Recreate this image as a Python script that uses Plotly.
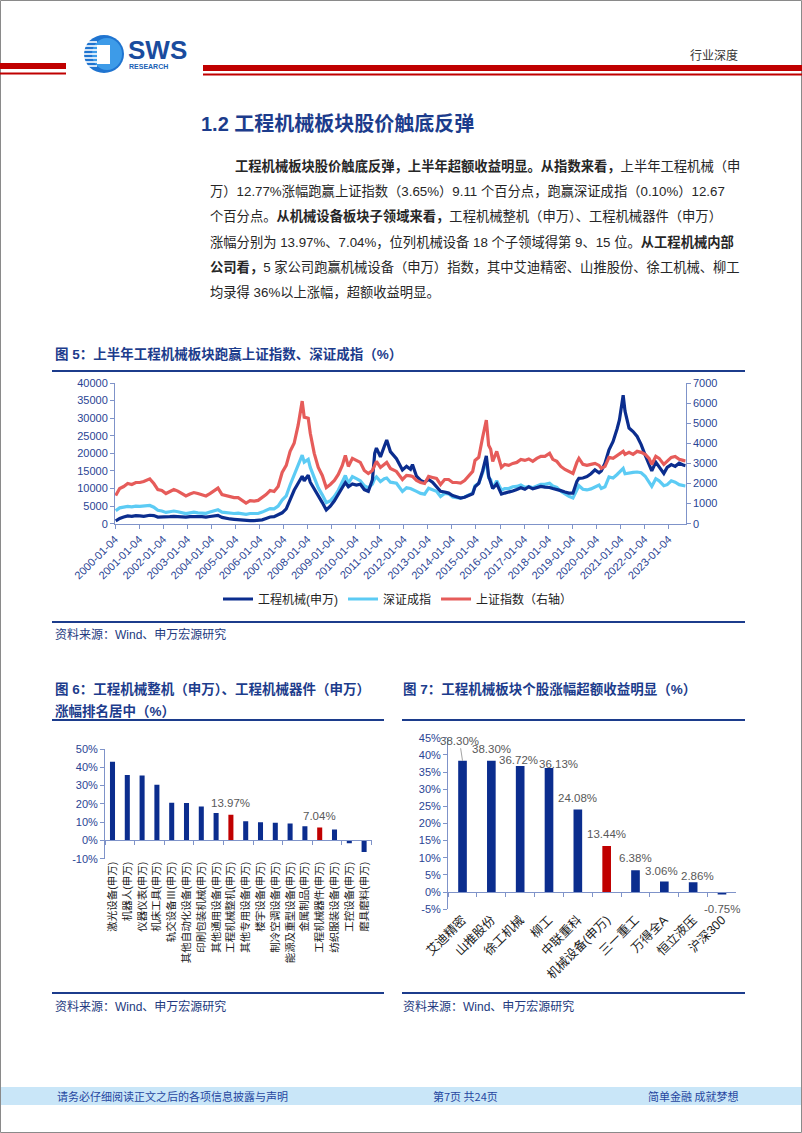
import plotly.graph_objects as go

W, H = 802, 1133

def fx(x):
    return x / W

def fy(y):
    return 1 - y / H

NAVY = '#0b2d8e'
LIGHT = '#5ccbf4'
RED = '#e65c5a'
BARRED = '#c00000'
TITLE = '#1c3c8c'
TICK = '#2a4494'
AX = '#7f93c9'
FONT = 'Liberation Sans, Noto Sans CJK SC'
CJK = 'Noto Sans CJK SC'

# ---------------- 图5 data ----------------
dates = ['2000-01-15', '2000-03-15', '2000-05-15', '2000-07-15', '2000-09-15', '2000-11-15',
         '2001-01-15', '2001-03-15', '2001-06-15', '2001-08-15', '2001-10-15', '2001-12-15',
         '2002-02-15', '2002-04-15', '2002-06-15', '2002-08-15', '2002-10-15', '2002-12-15',
         '2003-02-15', '2003-04-15', '2003-06-15', '2003-08-15', '2003-10-15', '2003-12-15',
         '2004-02-15', '2004-04-15', '2004-06-15', '2004-08-15', '2004-10-15', '2004-12-15',
         '2005-02-15', '2005-04-15', '2005-06-15', '2005-08-15', '2005-10-15', '2005-12-15',
         '2006-02-15', '2006-04-15', '2006-06-15', '2006-08-15', '2006-10-15', '2006-12-15',
         '2007-02-15', '2007-04-15', '2007-06-15', '2007-08-15', '2007-10-15', '2007-11-15',
         '2008-01-15', '2008-02-15', '2008-04-15', '2008-06-15', '2008-08-15', '2008-10-15', '2008-12-15',
         '2009-02-15', '2009-04-15', '2009-06-15', '2009-07-31', '2009-09-15', '2009-11-15',
         '2010-01-15', '2010-03-15', '2010-05-15', '2010-07-15', '2010-09-15', '2010-10-20', '2010-11-15',
         '2011-01-15', '2011-03-15', '2011-04-20', '2011-06-15', '2011-09-15', '2011-12-15',
         '2012-02-15', '2012-04-15', '2012-05-15', '2012-07-15', '2012-09-15', '2012-11-15',
         '2013-01-15', '2013-03-15', '2013-05-15', '2013-07-15', '2013-09-15', '2013-11-15',
         '2014-01-15', '2014-03-15', '2014-05-15', '2014-07-15', '2014-09-15', '2014-11-15', '2014-12-20',
         '2015-02-15', '2015-04-15', '2015-06-10', '2015-07-15', '2015-08-15', '2015-09-15', '2015-11-15',
         '2016-01-25', '2016-03-15', '2016-05-15', '2016-07-15', '2016-09-15', '2016-11-15',
         '2017-01-15', '2017-03-15', '2017-05-15', '2017-07-15', '2017-09-15', '2017-11-15',
         '2018-01-25', '2018-03-15', '2018-05-15', '2018-07-15', '2018-09-15', '2018-11-15',
         '2019-01-15', '2019-03-15', '2019-04-15', '2019-06-15', '2019-08-15', '2019-10-15', '2019-12-15',
         '2020-02-15', '2020-03-20', '2020-05-15', '2020-07-15', '2020-09-15', '2020-11-15', '2020-12-20',
         '2021-02-15', '2021-03-15', '2021-05-15', '2021-07-15', '2021-09-15', '2021-11-15',
         '2022-01-15', '2022-03-15', '2022-04-25', '2022-06-25', '2022-08-15', '2022-10-25', '2022-12-15',
         '2023-02-15', '2023-04-15', '2023-06-15', '2023-08-15', '2023-09-20']

gcjx = [800, 1500, 1900, 2200, 2100, 2300,
        2200, 2100, 2400, 2300, 1900, 1900,
        1800, 2000, 2100, 2000, 1900, 1850,
        2000, 2100, 2050, 2000, 1900, 2050,
        2200, 2350, 1800, 1500, 1350, 1250,
        1150, 1000, 800, 900, 850, 950,
        1100, 1500, 1900, 2000, 2500, 3100,
        4200, 6800, 9500, 11500, 13500, 12200,
        13800, 11800, 10000, 8000, 6000, 3900, 5000,
        6500, 8300, 10500, 11700, 10500, 11300,
        11000, 11200, 9700, 9200, 12500, 20000, 21500,
        19000, 22000, 23800, 20500, 18500, 15300,
        16300, 15500, 16800, 13500, 12300, 11800,
        12600, 11800, 10500, 9200, 9000, 8700,
        8000, 7700, 7300, 7500, 8000, 8500, 10500,
        11500, 15000, 19300, 13500, 12000, 10000, 11300,
        8400, 8700, 8900, 9300, 9700, 10200,
        9800, 10500, 9900, 10300, 10600, 10400,
        10300, 10000, 9800, 9400, 9000, 8700,
        8700, 12000, 12900, 13000, 13400, 14200, 15300,
        14500, 15000, 17200, 21000, 23400, 27000, 29500,
        36500, 32000, 27200, 26200, 24800, 22500,
        19500, 16500, 15000, 17500, 16000, 14300, 16000,
        16800, 16300, 17200, 16700, 16500]

szcz = [3700, 4500, 4700, 4900, 4800, 5000,
        4900, 5000, 5200, 4700, 3800, 3600,
        3200, 3400, 3600, 3400, 3200, 2900,
        3100, 3300, 3100, 3000, 2950, 3300,
        3700, 3950, 3300, 3100, 3050, 2900,
        3000, 2800, 2650, 2900, 2800, 2900,
        3300, 3800, 4300, 4200, 5000, 6700,
        7900, 11000, 14000, 17000, 19500, 17500,
        18300, 16000, 13000, 10200, 8200, 6000, 6500,
        7800, 9500, 11800, 13700, 11500, 13400,
        12800, 12200, 10800, 10200, 11300, 12800, 13300,
        12000, 12800, 13000, 11800, 11500, 9200,
        10200, 10000, 9800, 9200, 8600, 8400,
        10100, 9600, 9200, 7700, 8600, 8500,
        7600, 7400, 7300, 7600, 8200, 8700, 10800,
        11500, 14500, 18000, 13000, 12500, 10000, 12200,
        9500, 10000, 10000, 10500, 10600, 11000,
        10300, 10600, 10200, 10700, 11200, 11200,
        11500, 10700, 10300, 9200, 8400, 7800,
        7300, 9800, 10800, 9800, 9600, 9900, 10400,
        11000, 10000, 10500, 13300, 13000, 14000, 14600,
        15700, 14200, 14500, 14600, 14700, 14500,
        13500, 12000, 10600, 12800, 12200, 10800, 11100,
        12200, 11800, 11100, 10800, 10700]

szzs = [1400, 1750, 1850, 2000, 1950, 2050,
        2050, 2100, 2230, 2000, 1700, 1650,
        1500, 1600, 1700, 1620, 1520, 1380,
        1480, 1550, 1500, 1450, 1380, 1500,
        1650, 1770, 1450, 1400, 1350, 1300,
        1300, 1180, 1030, 1150, 1120, 1160,
        1300, 1450, 1650, 1600, 1850, 2550,
        2900, 3600, 4000, 4900, 6100, 5300,
        5250, 4500, 3500, 2800, 2400, 1800, 1950,
        2150, 2450, 2900, 3400, 2850, 3250,
        3150, 3050, 2650, 2500, 2650, 2950, 3100,
        2800, 2950, 3050, 2750, 2600, 2200,
        2400, 2380, 2350, 2150, 2050, 2000,
        2350, 2300, 2250, 1950, 2200, 2200,
        2050, 2050, 2020, 2150, 2350, 2600, 3150,
        3300, 4300, 5150, 3900, 3700, 3100, 3600,
        2800, 2950, 2900, 3000, 3050, 3200,
        3150, 3220, 3100, 3250, 3350, 3350,
        3500, 3200, 3100, 2850, 2700, 2600,
        2500, 3050, 3250, 2950, 2900, 2950, 3000,
        2900, 2750, 2850, 3300, 3250, 3400, 3450,
        3600, 3450, 3550, 3450, 3600, 3550,
        3450, 3250, 2950, 3350, 3250, 2950, 3100,
        3300, 3350, 3200, 3150, 3120]

xticks5 = ['2000-01-04', '2001-01-04', '2002-01-04', '2003-01-04', '2004-01-04', '2005-01-04',
           '2006-01-04', '2007-01-04', '2008-01-04', '2009-01-04', '2010-01-04', '2011-01-04',
           '2012-01-04', '2013-01-04', '2014-01-04', '2015-01-04', '2016-01-04', '2017-01-04',
           '2018-01-04', '2019-01-04', '2020-01-04', '2021-01-04', '2022-01-04', '2023-01-04']
yticks5 = [0, 5000, 10000, 15000, 20000, 25000, 30000, 35000, 40000]
y2ticks5 = [0, 1000, 2000, 3000, 4000, 5000, 6000, 7000]

# ---------------- 图6 data ----------------
cats6 = ['激光设备(申万)', '机器人(申万)', '仪器仪表(申万)', '机床工具(申万)', '轨交设备Ⅲ(申万)',
         '其他自动化设备(申万)', '印刷包装机械(申万)', '其他通用设备(申万)', '工程机械整机(申万)',
         '其他专用设备(申万)', '楼宇设备(申万)', '制冷空调设备(申万)', '能源及重型设备(申万)',
         '金属制品(申万)', '工程机械器件(申万)', '纺织服装设备(申万)', '工控设备(申万)', '磨具磨料(申万)']
vals6 = [43.0, 35.8, 35.5, 30.5, 20.6, 20.4, 18.6, 15.0, 13.97,
         10.5, 10.0, 9.7, 9.2, 7.8, 7.04, 6.0, -1.6, -6.4]
hl6 = ['工程机械整机(申万)', '工程机械器件(申万)']
yticks6 = [-10, 0, 10, 20, 30, 40, 50]
ytext6 = ['-10%', '0%', '10%', '20%', '30%', '40%', '50%']

# ---------------- 图7 data ----------------
cats7 = ['艾迪精密', '山推股份', '徐工机械', '柳工', '中联重科', '机械设备(申万)',
         '三一重工', '万得全A', '恒立液压', '沪深300']
vals7 = [38.30, 38.30, 36.72, 36.13, 24.08, 13.44, 6.38, 3.06, 2.86, -0.75]
hl7 = ['机械设备(申万)']
yticks7 = [-5, 0, 5, 10, 15, 20, 25, 30, 35, 40, 45]
ytext7 = ['-5%', '0%', '5%', '10%', '15%', '20%', '25%', '30%', '35%', '40%', '45%']

fig = go.Figure()

# 图5 lines
fig.add_trace(go.Scatter(x=dates, y=szzs, name='上证指数（右轴）', xaxis='x', yaxis='y2',
                         mode='lines', line=dict(color=RED, width=3.2), legendrank=3))
fig.add_trace(go.Scatter(x=dates, y=szcz, name='深证成指', xaxis='x', yaxis='y',
                         mode='lines', line=dict(color=LIGHT, width=3.2), legendrank=2))
fig.add_trace(go.Scatter(x=dates, y=gcjx, name='工程机械(申万)', xaxis='x', yaxis='y',
                         mode='lines', line=dict(color=NAVY, width=3.2), legendrank=1))

# 图6 bars
fig.add_trace(go.Bar(x=cats6, y=vals6, xaxis='x3', yaxis='y3', showlegend=False,
                     marker=dict(color=[BARRED if c in hl6 else NAVY for c in cats6], line_width=0)))
fig.add_trace(go.Scatter(x=cats6, y=vals6, xaxis='x4', yaxis='y3', mode='none',
                         showlegend=False, hoverinfo='skip'))

# 图7 bars
fig.add_trace(go.Bar(x=cats7, y=vals7, xaxis='x5', yaxis='y5', showlegend=False, width=0.3,
                     marker=dict(color=[BARRED if c in hl7 else NAVY for c in cats7], line_width=0)))
fig.add_trace(go.Scatter(x=cats7, y=vals7, xaxis='x6', yaxis='y5', mode='none',
                         showlegend=False, hoverinfo='skip'))

# domains
d5x = [fx(115), fx(685.7)]
d5y = [fy(523.7), fy(383)]
d6x = [fx(105.1), fx(371.5)]
d6y = [fy(858.7), fy(749)]
d7x = [fx(448.1), fx(736.4)]
d7y = [fy(909.2), fy(737.7)]
zero6 = d6y[0] + (0 - yticks6[0]) / (yticks6[-1] - yticks6[0]) * (d6y[1] - d6y[0])
zero7 = d7y[0] + (0 - yticks7[0]) / (yticks7[-1] - yticks7[0]) * (d7y[1] - d7y[0])

tickfont = dict(family=FONT, size=11, color=TICK)
axcommon = dict(showgrid=False, zeroline=False, showline=True, linecolor=AX, linewidth=1,
                ticks='outside', ticklen=4, tickcolor=AX, fixedrange=True, automargin=False)

fig.update_layout(
    width=W, height=H, autosize=False,
    margin=dict(l=0, r=0, t=0, b=0, pad=0),
    paper_bgcolor='white', plot_bgcolor='white',
    bargap=0.66,
    showlegend=True,
    legend=dict(orientation='h', x=fx(398), y=fy(599), xanchor='center', yanchor='middle',
                font=dict(family=FONT, size=12, color='#222222'), bgcolor='rgba(0,0,0,0)',
                itemwidth=30, tracegroupgap=0),
    xaxis=dict(domain=d5x, anchor='y', type='date', range=['2000-01-04', '2023-09-22'],
               tickmode='array', tickvals=xticks5, ticktext=xticks5, tickangle=-45,
               tickfont=tickfont, **axcommon),
    yaxis=dict(domain=d5y, anchor='x', range=[0, 40000], tickmode='array', tickvals=yticks5,
               ticktext=[str(v) for v in yticks5], tickfont=tickfont, **axcommon),
    yaxis2=dict(domain=d5y, anchor='x', overlaying='y', side='right', range=[0, 7000],
                tickmode='array', tickvals=y2ticks5, ticktext=[str(v) for v in y2ticks5],
                tickfont=tickfont, **axcommon),
    xaxis3=dict(domain=d6x, anchor='y3', type='category', range=[-0.5, len(cats6) - 0.5],
                showgrid=False, zeroline=False, showline=False, ticks='', tickangle=-90,
                tickfont=dict(family=FONT, size=10.5, color='#1a1a1a'), fixedrange=True,
                automargin=False),
    xaxis4=dict(overlaying='x3', anchor='free', position=zero6, type='category',
                range=[-0.5, len(cats6) - 0.5], showgrid=False, zeroline=False, showline=True,
                linecolor=AX, ticks='outside', ticklen=4, tickcolor=AX, tickson='boundaries',
                showticklabels=False, fixedrange=True, automargin=False),
    yaxis3=dict(domain=d6y, anchor='x3', range=[-10, 50], tickmode='array', tickvals=yticks6,
                ticktext=ytext6, tickfont=tickfont, **axcommon),
    xaxis5=dict(domain=d7x, anchor='y5', type='category', range=[-0.5, len(cats7) - 0.5],
                showgrid=False, zeroline=False, showline=False, ticks='', tickangle=-45,
                tickfont=dict(family=FONT, size=12.5, color='#1a1a1a'), fixedrange=True,
                automargin=False),
    xaxis6=dict(overlaying='x5', anchor='free', position=zero7, type='category',
                range=[-0.5, len(cats7) - 0.5], showgrid=False, zeroline=False, showline=True,
                linecolor=AX, ticks='outside', ticklen=4, tickcolor=AX, tickson='boundaries',
                showticklabels=False, fixedrange=True, automargin=False),
    yaxis5=dict(domain=d7y, anchor='x5', range=[-5, 45], tickmode='array', tickvals=yticks7,
                ticktext=ytext7, tickfont=tickfont, **axcommon),
)

shapes = []
# page border
shapes.append(dict(type='rect', xref='paper', yref='paper', x0=fx(0.5), x1=fx(801.5),
                   y0=fy(1132.5), y1=fy(0.5), line=dict(color='#8a8a8a', width=1)))
# header red rules
for x0, x1, ya, yb, yc, yd in [(0, 66, 63, 69, 72.5, 74.5), (203, 802, 65, 71, 73.5, 75.5)]:
    shapes.append(dict(type='rect', xref='paper', yref='paper', x0=fx(x0), x1=fx(x1),
                       y0=fy(yb), y1=fy(ya), fillcolor='#c00000', line_width=0))
    shapes.append(dict(type='rect', xref='paper', yref='paper', x0=fx(x0), x1=fx(x1),
                       y0=fy(yd), y1=fy(yc), fillcolor='#c00000', line_width=0))
# logo
shapes.append(dict(type='circle', xref='paper', yref='paper', x0=fx(84), x1=fx(124),
                   y0=fy(73), y1=fy(35), fillcolor='#1f74d0', line_width=0))
shapes.append(dict(type='circle', xref='paper', yref='paper', x0=fx(92), x1=fx(122),
                   y0=fy(70), y1=fy(38), fillcolor='#3d9be8', line_width=0))
for yy in [42, 46, 50, 54, 58, 62, 66]:
    shapes.append(dict(type='line', xref='paper', yref='paper', x0=fx(84), x1=fx(97),
                       y0=fy(yy), y1=fy(yy), line=dict(color='white', width=1.6)))
shapes.append(dict(type='rect', xref='paper', yref='paper', x0=fx(97), x1=fx(110),
                   y0=fy(64), y1=fy(45), fillcolor='white', line_width=0))
# section rules
for x0, x1, yy in [(52, 745, 371), (52, 745, 622), (52, 384, 720), (402, 745, 720),
                   (52, 384, 993), (402, 745, 993)]:
    shapes.append(dict(type='line', xref='paper', yref='paper', x0=fx(x0), x1=fx(x1),
                       y0=fy(yy), y1=fy(yy), line=dict(color=TITLE, width=2)))
# footer band
shapes.append(dict(type='rect', xref='paper', yref='paper', x0=fx(1), x1=fx(801),
                   y0=fy(1105), y1=fy(1087), fillcolor='#c9e6f8', line_width=0, layer='below'))

ann = []

def txt(x, y, text, size, color, bold=False, anchor='left', family=CJK):
    ann.append(dict(xref='paper', yref='paper', x=fx(x), y=fy(y), text=('<b>%s</b>' % text) if bold else text,
                    showarrow=False, xanchor=anchor, yanchor='middle',
                    font=dict(family=family, size=size, color=color)))

txt(126, 50, 'SWS', 26, '#1a4c9e', bold=True, family='Liberation Sans Narrow, Liberation Sans')
txt(127, 66.5, 'RESEARCH', 7, '#1a5fb4', bold=True, family='Liberation Sans Narrow, Liberation Sans')
txt(740, 55, '行业深度', 12, '#333333', anchor='right')
txt(199, 123, '1.2 工程机械板块股价触底反弹', 20, TITLE, bold=True, family='Liberation Sans, Noto Sans CJK SC')

para = [
    (233, '<b>工程机械板块股价触底反弹，上半年超额收益明显。从指数来看，</b>上半年工程机械（申'),
    (208, '万）12.77%涨幅跑赢上证指数（3.65%）9.11 个百分点，跑赢深证成指（0.10%）12.67'),
    (208, '个百分点。<b>从机械设备板块子领域来看，</b>工程机械整机（申万）、工程机械器件（申万）'),
    (208, '涨幅分别为 13.97%、7.04%，位列机械设备 18 个子领域得第 9、15 位。<b>从工程机械内部</b>'),
    (208, '<b>公司看，</b>5 家公司跑赢机械设备（申万）指数，其中艾迪精密、山推股份、徐工机械、柳工'),
    (208, '均录得 36%以上涨幅，超额收益明显。'),
]
for i, (x0, line) in enumerate(para):
    txt(x0, 166 + i * 25.2, line, 13.3, '#262626', family='Liberation Sans, Noto Sans CJK SC')

txt(53, 354, '图 5：上半年工程机械板块跑赢上证指数、深证成指（%）', 13.5, TITLE, bold=True, family=FONT)
txt(53, 689, '图 6：工程机械整机（申万）、工程机械器件（申万）', 13.5, TITLE, bold=True, family=FONT)
txt(53, 711, '涨幅排名居中（%）', 13.5, TITLE, bold=True, family=FONT)
txt(401, 689, '图 7：工程机械板块个股涨幅超额收益明显（%）', 13.5, TITLE, bold=True, family=FONT)
txt(53, 634, '资料来源：Wind、申万宏源研究', 12, '#233a80', family=FONT)
txt(53, 1006, '资料来源：Wind、申万宏源研究', 12, '#233a80', family=FONT)
txt(401, 1006, '资料来源：Wind、申万宏源研究', 12, '#233a80', family=FONT)
txt(55, 1096, '请务必仔细阅读正文之后的各项信息披露与声明', 11, '#2646a0')
txt(465, 1096, '第7页 共24页', 11, '#2646a0', anchor='center')
txt(740, 1096, '简单金融 成就梦想', 11, '#2646a0', anchor='right')

# data labels
lab_font = dict(family=FONT, size=11.5, color='#595959')
for c, v in zip(cats6, vals6):
    if c in hl6:
        ann.append(dict(xref='x3', yref='y3', x=c, y=v, text='%.2f%%' % v, showarrow=False,
                        yanchor='middle', yshift=11.5, font=lab_font))
shift7 = [(0, 0), (0, 12), (-2, 6), (9, 4), (0, 11), (0, 11.5), (0, 12), (-3, 11), (4, 6), (0, -14)]
for i, (c, v) in enumerate(zip(cats7, vals7)):
    if i == 0:
        ann.append(dict(xref='x5', yref='y5', x=c, y=v, text='%.2f%%' % v, showarrow=True,
                        arrowhead=0, arrowwidth=0.8, arrowcolor='#8c8c8c', ax=-3, ay=-20,
                        standoff=0, font=lab_font))
    else:
        sx, sy = shift7[i]
        ann.append(dict(xref='x5', yref='y5', x=c, y=v, text='%.2f%%' % v, showarrow=False,
                        yanchor='middle', xshift=sx, yshift=sy, font=lab_font))

fig.update_layout(shapes=shapes, annotations=ann)
fig.write_html('out.html', config={'displayModeBar': False},
               post_script="document.body.style.margin='0';")
